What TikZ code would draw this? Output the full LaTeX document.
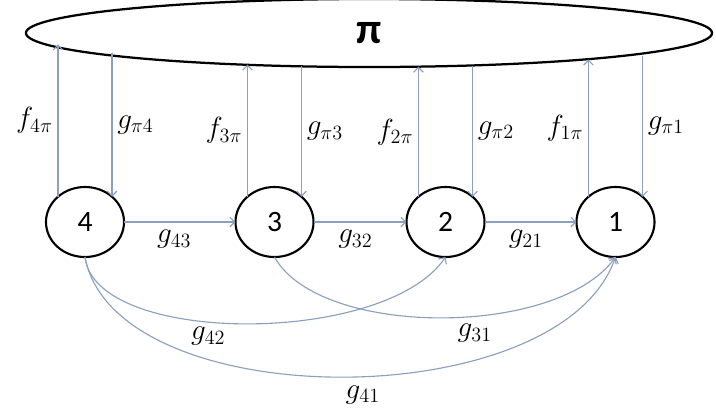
\documentclass[tikz,border=0pt]{standalone}
\usepackage{amsmath,amssymb}
\usepackage{fontspec}
\newfontfamily\numfont{Carlito}
\usepackage{xcolor}
\usetikzlibrary{arrows.meta,shapes.geometric}
\definecolor{linkblue}{RGB}{138,160,190}

\begin{document}
\begin{tikzpicture}[x=0.025cm,y=-0.025cm,line width=0.8pt,
  agent/.style={ellipse,draw,line width=1.5pt,minimum width=1.95cm,
    minimum height=1.75cm,inner sep=0pt,outer sep=0pt,
    font=\numfont\fontsize{21}{23}\selectfont},
  flow/.style={draw=linkblue,-{Straight Barb[length=1.2mm,width=2.4mm]}},
  lbl/.style={font=\fontsize{19.5}{22}\selectfont}]
  \useasboundingbox (0,0) rectangle (716,416);
  \node[ellipse,draw,line width=1.6pt,minimum width=17.15cm,minimum height=1.7cm,
    inner sep=0pt,outer sep=0pt,font=\numfont\bfseries\fontsize{31}{33}\selectfont]
    (P) at (369,33) {π};
  \node[agent] (n4) at (85,222) {4};
  \node[agent] (n3) at (274.5,222) {3};
  \node[agent] (n2) at (445.5,222) {2};
  \node[agent] (n1) at (615.5,222) {1};

  \draw[flow] (n4.137) -- node[lbl,left] {$f_{4\pi}$} (n4.137 |- P.182.59);
  \draw[flow] (n4.43 |- P.184.96) -- node[lbl,right] {$g_{\pi4}$} (n4.43);
  \draw[flow] (n3.137) -- node[lbl,left] {$f_{3\pi}$} (n3.137 |- P.194.54);
  \draw[flow] (n3.43 |- P.205.94) -- node[lbl,right] {$g_{\pi3}$} (n3.43);
  \draw[flow] (n2.137) -- node[lbl,left] {$f_{2\pi}$} (n2.137 |- P.325.23);
  \draw[flow] (n2.43 |- P.342.43) -- node[lbl,right] {$g_{\pi2}$} (n2.43);
  \draw[flow] (n1.137) -- node[lbl,left] {$f_{1\pi}$} (n1.137 |- P.353.16);
  \draw[flow] (n1.43 |- P.355.67) -- node[lbl,right] {$g_{\pi1}$} (n1.43);

  \draw[flow] (n4) -- node[lbl,below=2pt,pos=0.45] {$g_{43}$} (n3);
  \draw[flow] (n3) -- node[lbl,below=2pt,pos=0.45] {$g_{32}$} (n2);
  \draw[flow] (n2) -- node[lbl,below=2pt,pos=0.45] {$g_{21}$} (n1);

  \draw[flow] (n4.south) .. controls +(10,89) and +(-60,89) .. (n2.south)
    node[lbl,below,pos=0.42] {$g_{42}$};
  \draw[flow] (n3.south) .. controls +(45,81) and +(-58,81) .. (n1.south)
    node[lbl,below=2pt,pos=0.58] {$g_{31}$};
  \draw[flow] (n4.south) .. controls +(30,160) and +(-55,160) .. (n1.south)
    node[lbl,below=3pt,pos=0.53] {$g_{41}$};
\end{tikzpicture}
\end{document}
